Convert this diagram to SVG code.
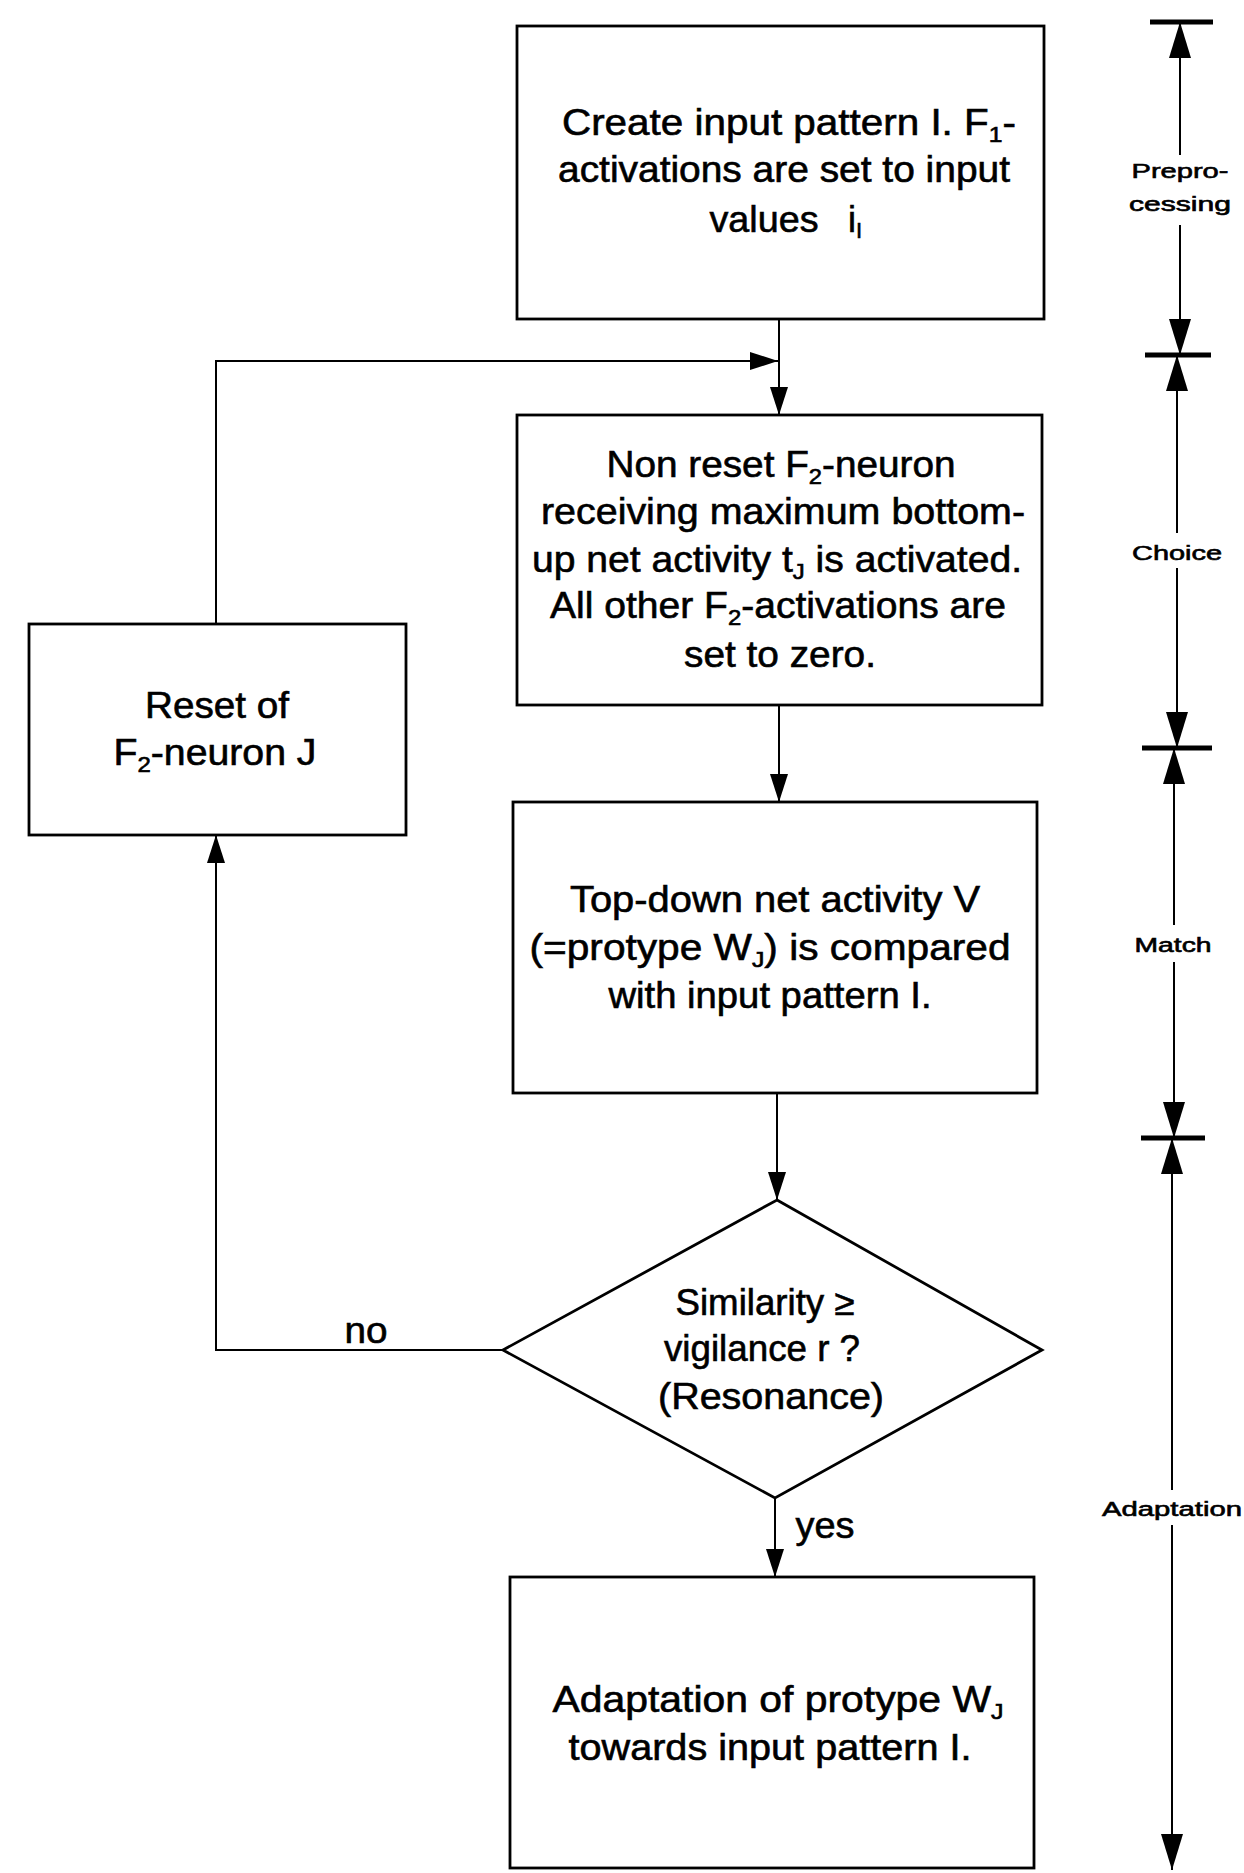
<svg xmlns="http://www.w3.org/2000/svg" width="1244" height="1873" viewBox="0 0 1244 1873">
<style>
.bg{fill:#fff}
.box{fill:#fff;stroke:#000;stroke-width:2.8}
.con{fill:none;stroke:#000;stroke-width:2}
.sc{fill:none;stroke:#000;stroke-width:2}
.bar{stroke:#000;stroke-width:5}
.t{font-family:"Liberation Sans",Arial,Helvetica,sans-serif;font-size:36px;text-anchor:middle;fill:#000;stroke:#000;stroke-width:0.6}
.sub{font-size:22px}
.s{font-family:"Liberation Sans",Arial,Helvetica,sans-serif;font-size:20px;text-anchor:middle;fill:#000;stroke:#000;stroke-width:0.6}
</style>
<defs>
<marker id="arr" viewBox="0 0 28 18" refX="28" refY="9" markerWidth="28" markerHeight="18" markerUnits="userSpaceOnUse" orient="auto"><path d="M0,0 L28,9 L0,18 z" fill="#000"/></marker>
<marker id="sarr" viewBox="0 0 36 22" refX="36" refY="11" markerWidth="36" markerHeight="22" markerUnits="userSpaceOnUse" orient="auto-start-reverse"><path d="M0,0 L36,11 L0,22 z" fill="#000"/></marker>
</defs>
<rect class="bg" x="0" y="0" width="1244" height="1873"/>

<g id="connectors">
<path class="con" d="M779,319 V415" marker-end="url(#arr)"/>
<path class="con" d="M216,624 V361 H778" marker-end="url(#arr)"/>
<path class="con" d="M779,705 V802" marker-end="url(#arr)"/>
<path class="con" d="M777,1093 V1200" marker-end="url(#arr)"/>
<path class="con" d="M503,1350 H216 V835" marker-end="url(#arr)"/>
<path class="con" d="M775,1498 V1577" marker-end="url(#arr)"/>
<text class="t" x="366" y="1343" textLength="43" lengthAdjust="spacingAndGlyphs">no</text>
<text class="t" x="825" y="1538" textLength="59" lengthAdjust="spacingAndGlyphs">yes</text>
</g>

<g id="n1">
<rect class="box" x="517" y="26" width="527" height="293"/>
<text class="t" x="789" y="135" textLength="454" lengthAdjust="spacingAndGlyphs">Create input pattern I. F<tspan class="sub" dy="7">1</tspan><tspan dy="-7">-</tspan></text>
<text class="t" x="784" y="182" textLength="452" lengthAdjust="spacingAndGlyphs">activations are set to input</text>
<text class="t" x="764" y="232" textLength="109" lengthAdjust="spacingAndGlyphs">values</text>
<text class="t" x="848" y="232" style="text-anchor:start">i<tspan class="sub" dy="6">I</tspan></text>
</g>

<g id="n2">
<rect class="box" x="517" y="415" width="525" height="290"/>
<text class="t" x="781" y="477" textLength="349" lengthAdjust="spacingAndGlyphs">Non reset F<tspan class="sub" dy="7">2</tspan><tspan dy="-7">-neuron</tspan></text>
<text class="t" x="783" y="524" textLength="484" lengthAdjust="spacingAndGlyphs">receiving maximum bottom-</text>
<text class="t" x="777" y="572" textLength="490" lengthAdjust="spacingAndGlyphs">up net activity t<tspan class="sub" dy="7">J</tspan><tspan dy="-7"> is activated.</tspan></text>
<text class="t" x="778" y="618" textLength="456" lengthAdjust="spacingAndGlyphs">All other F<tspan class="sub" dy="7">2</tspan><tspan dy="-7">-activations are</tspan></text>
<text class="t" x="780" y="667" textLength="192" lengthAdjust="spacingAndGlyphs">set to zero.</text>
</g>

<g id="n3">
<rect class="box" x="29" y="624" width="377" height="211"/>
<text class="t" x="217" y="718" textLength="144" lengthAdjust="spacingAndGlyphs">Reset of</text>
<text class="t" x="215" y="765" textLength="203" lengthAdjust="spacingAndGlyphs">F<tspan class="sub" dy="7">2</tspan><tspan dy="-7">-neuron J</tspan></text>
</g>

<g id="n4">
<rect class="box" x="513" y="802" width="524" height="291"/>
<text class="t" x="775" y="912" textLength="410" lengthAdjust="spacingAndGlyphs">Top-down net activity V</text>
<text class="t" x="770" y="960" textLength="481" lengthAdjust="spacingAndGlyphs">(=protype W<tspan class="sub" dy="7">J</tspan><tspan dy="-7">) is compared</tspan></text>
<text class="t" x="770" y="1008" textLength="323" lengthAdjust="spacingAndGlyphs">with input pattern I.</text>
</g>

<g id="n5">
<polygon class="box" points="777,1200 1042,1350 775,1498 503,1350"/>
<text class="t" x="765" y="1315" textLength="179" lengthAdjust="spacingAndGlyphs">Similarity ≥</text>
<text class="t" x="762" y="1361" textLength="196" lengthAdjust="spacingAndGlyphs">vigilance r ?</text>
<text class="t" x="771" y="1409" textLength="226" lengthAdjust="spacingAndGlyphs">(Resonance)</text>
</g>

<g id="n6">
<rect class="box" x="510" y="1577" width="524" height="291"/>
<text class="t" x="778" y="1712" textLength="451" lengthAdjust="spacingAndGlyphs">Adaptation of protype W<tspan class="sub" dy="7">J</tspan></text>
<text class="t" x="770" y="1760" textLength="403" lengthAdjust="spacingAndGlyphs">towards input pattern I.</text>
</g>

<g id="scale">
<line class="bar" x1="1150" y1="22" x2="1213" y2="22"/>
<line class="bar" x1="1145" y1="355" x2="1211" y2="355"/>
<line class="bar" x1="1142" y1="748" x2="1212" y2="748"/>
<line class="bar" x1="1141" y1="1138" x2="1205" y2="1138"/>
<path class="sc" d="M1180,22 V155" marker-start="url(#sarr)"/>
<path class="sc" d="M1180,225 V355" marker-end="url(#sarr)"/>
<text class="s" x="1180" y="178" textLength="97" lengthAdjust="spacingAndGlyphs">Prepro-</text>
<text class="s" x="1180" y="211" textLength="102" lengthAdjust="spacingAndGlyphs">cessing</text>
<path class="sc" d="M1177,355 V533" marker-start="url(#sarr)"/>
<path class="sc" d="M1177,568 V748" marker-end="url(#sarr)"/>
<text class="s" x="1177" y="560" textLength="90" lengthAdjust="spacingAndGlyphs">Choice</text>
<path class="sc" d="M1174,748 V925" marker-start="url(#sarr)"/>
<path class="sc" d="M1174,962 V1138" marker-end="url(#sarr)"/>
<text class="s" x="1173" y="952" textLength="77" lengthAdjust="spacingAndGlyphs">Match</text>
<path class="sc" d="M1172,1138 V1490" marker-start="url(#sarr)"/>
<path class="sc" d="M1172,1525 V1870" marker-end="url(#sarr)"/>
<text class="s" x="1172" y="1516" textLength="140" lengthAdjust="spacingAndGlyphs">Adaptation</text>
</g>
</svg>
